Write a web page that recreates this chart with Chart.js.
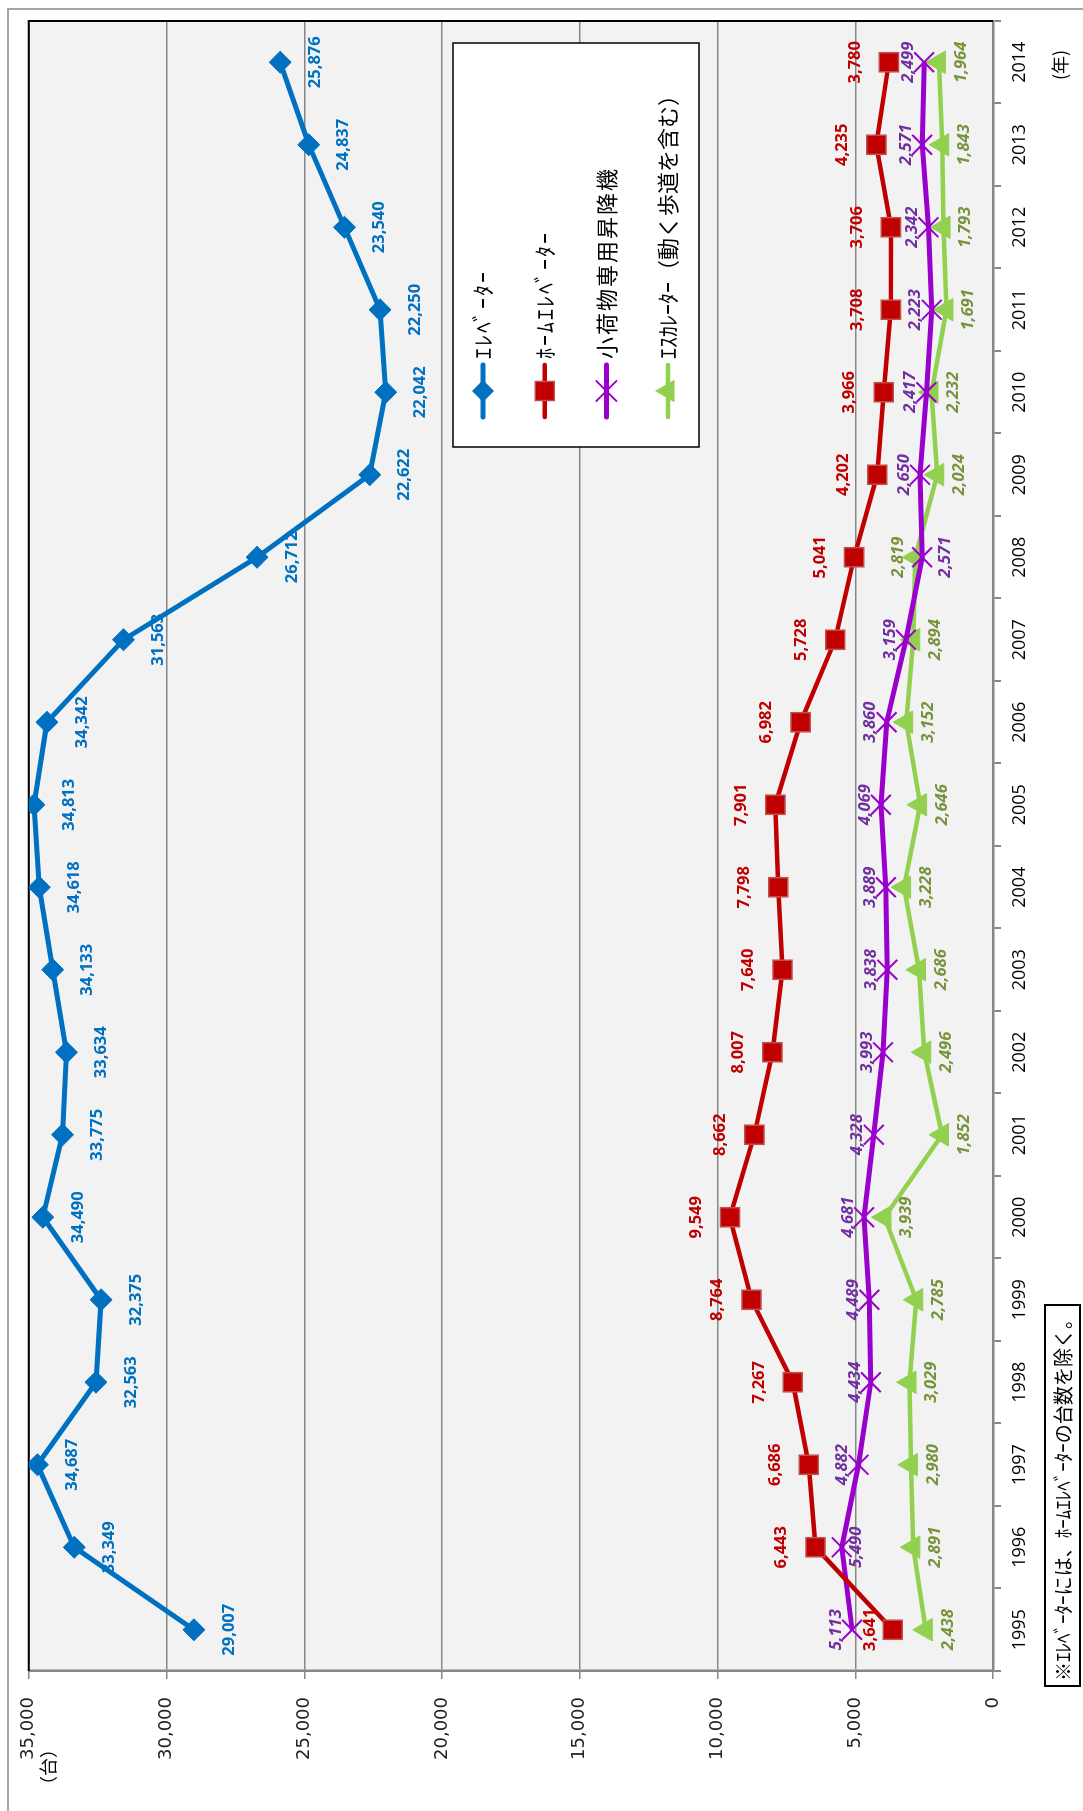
<!DOCTYPE html>
<html>
<head>
<meta charset="utf-8">
<script src="https://cdn.jsdelivr.net/npm/chart.js@4"></script>
<style>
html, body { margin: 0; padding: 0; background: #fff; overflow: hidden; }
#wrap {
    position: absolute; left: 0; top: 0;
    width: 1811px; height: 1083px;
    transform-origin: 0 0;
    transform: translate(0, 1811px) rotate(-90deg);
}
</style>
</head>
<body>
<div id="wrap"><canvas id="chart" width="1811" height="1083"></canvas></div>
<script>
// data
const years = ['1995', '1996', '1997', '1998', '1999', '2000', '2001', '2002', '2003', '2004',
               '2005', '2006', '2007', '2008', '2009', '2010', '2011', '2012', '2013', '2014'];
const elevator     = [29007, 33349, 34687, 32563, 32375, 34490, 33775, 33634, 34133, 34618,
                      34813, 34342, 31563, 26712, 22622, 22042, 22250, 23540, 24837, 25876];
const homeElevator = [3641, 6443, 6686, 7267, 8764, 9549, 8662, 8007, 7640, 7798,
                      7901, 6982, 5728, 5041, 4202, 3966, 3708, 3706, 4235, 3780];
const dumbwaiter   = [5113, 5490, 4882, 4434, 4489, 4681, 4328, 3993, 3838, 3889,
                      4069, 3860, 3159, 2571, 2650, 2417, 2223, 2342, 2571, 2499];
const escalator    = [2438, 2891, 2980, 3029, 2785, 3939, 1852, 2496, 2686, 3228,
                      2646, 3152, 2894, 2819, 2024, 2232, 1691, 1793, 1843, 1964];
const seriesNames  = ['ｴﾚﾍﾞｰﾀｰ', 'ﾎｰﾑｴﾚﾍﾞｰﾀｰ', '小荷物専用昇降機', 'ｴｽｶﾚｰﾀｰ（動く歩道を含む）'];
const yTicks = [0, 5000, 10000, 15000, 20000, 25000, 30000, 35000];
const unitY = '（台）';
const unitX = '(年)';
const note = '※ｴﾚﾍﾞｰﾀｰには、ﾎｰﾑｴﾚﾍﾞｰﾀｰの台数を除く。';

const GRAY = '#868686';
const LBL = '"Open Sans", "Noto Sans", sans-serif';
const JP = '"Noto Sans CJK JP", sans-serif';

// label look per series: colour, italic, offset from point (+ = below in this canvas)
const labelStyle = [
    { color: '#0070C0', italic: false, off: 35 },
    { color: '#C00000', italic: false, off: -34, except: { 0: -22 } },
    { color: '#7030A0', italic: true,  off: -16, except: { 1: 15, 13: 23 } },
    { color: '#77933C', italic: true,  off: 22,  except: { 13: -17 } }
];
const legendSpacing = [2, 2, 2, 0];

function fmt(v) { return v.toLocaleString('en-US'); }

const framePlugin = {
    id: 'frame',
    beforeDraw(chart) {
        const { ctx, chartArea: a, width, height } = chart;
        ctx.save();
        ctx.fillStyle = '#fff';
        ctx.fillRect(0, 0, width, height);
        // outer chart border
        ctx.strokeStyle = '#a6a6a6';
        ctx.lineWidth = 2;
        ctx.beginPath();
        ctx.moveTo(-10, 8);
        ctx.lineTo(width - 9, 8);
        ctx.lineTo(width - 9, height + 10);
        ctx.stroke();
        // plot area
        ctx.fillStyle = '#f2f2f2';
        ctx.fillRect(a.left, a.top, a.right - a.left, a.bottom - a.top);
        ctx.restore();
    },
    beforeDatasetsDraw(chart) {
        const { ctx, chartArea: a } = chart;
        ctx.save();
        ctx.strokeStyle = '#000';
        ctx.lineWidth = 2;
        ctx.beginPath();
        ctx.moveTo(a.left, a.top);
        ctx.lineTo(a.right, a.top);
        ctx.lineTo(a.right, a.bottom);
        ctx.stroke();
        ctx.restore();
    },
    afterDatasetsDraw(chart) {
        const ctx = chart.ctx;
        chart.data.datasets.forEach((ds, i) => {
            const meta = chart.getDatasetMeta(i);
            const st = labelStyle[i];
            ctx.save();
            ctx.font = (st.italic ? 'italic ' : '') + 'bold 16.5px ' + LBL;
            ctx.fillStyle = st.color;
            ctx.textAlign = 'center';
            ctx.textBaseline = 'middle';
            meta.data.forEach((pt, j) => {
                const off = st.except && st.except[j] !== undefined ? st.except[j] : st.off;
                ctx.fillText(fmt(ds.data[j]), pt.x, pt.y + off);
            });
            ctx.restore();
        });
    },
    afterDraw(chart) {
        const ctx = chart.ctx;
        ctx.save();
        // axis units
        ctx.fillStyle = '#000';
        ctx.textAlign = 'center';
        ctx.textBaseline = 'middle';
        ctx.font = '18px ' + JP;
        ctx.fillText(unitY, 44, 48);
        ctx.fillText(unitX, 1746, 1060);

        // legend box
        const lx = 1364, ly = 453, lw = 404, lh = 246;
        ctx.fillStyle = '#fff';
        ctx.fillRect(lx, ly, lw, lh);
        ctx.strokeStyle = '#000';
        ctx.lineWidth = 1.5;
        ctx.strokeRect(lx, ly, lw, lh);
        chart.data.datasets.forEach((ds, i) => {
            const y = ly + 30 + i * 61.7;
            ctx.strokeStyle = ds.borderColor;
            ctx.lineWidth = ds.borderWidth;
            ctx.lineCap = 'round';
            ctx.beginPath();
            ctx.moveTo(lx + 30, y);
            ctx.lineTo(lx + 82, y);
            ctx.stroke();
            drawMarker(ctx, i, lx + 56, y, ds);
            ctx.fillStyle = '#000';
            ctx.textAlign = 'left';
            ctx.font = '22px ' + JP;
            ctx.letterSpacing = legendSpacing[i] + 'px';
            ctx.fillText(seriesNames[i], lx + 88, y);
            ctx.letterSpacing = '0px';
        });

        // footnote box, text squeezed to fit like the original
        const nx = 125, ny = 1045, nw = 381, nh = 35;
        ctx.fillStyle = '#fff';
        ctx.fillRect(nx, ny, nw, nh);
        ctx.strokeStyle = '#000';
        ctx.lineWidth = 2;
        ctx.strokeRect(nx, ny, nw, nh);
        ctx.fillStyle = '#000';
        ctx.textAlign = 'left';
        ctx.font = '20px ' + JP;
        ctx.fillText(note, nx + 5, ny + nh / 2 + 1, nw - 10);
        ctx.restore();
    }
};

function drawMarker(ctx, i, x, y, ds) {
    ctx.save();
    ctx.fillStyle = ds.pointBackgroundColor;
    ctx.strokeStyle = ds.pointBorderColor;
    ctx.lineWidth = ds.pointBorderWidth;
    ctx.beginPath();
    if (i === 0) {
        ctx.moveTo(x - 11, y); ctx.lineTo(x, y - 11); ctx.lineTo(x + 11, y); ctx.lineTo(x, y + 11);
        ctx.closePath(); ctx.fill();
    } else if (i === 1) {
        ctx.rect(x - 9.5, y - 9.5, 19, 19); ctx.fill(); ctx.stroke();
    } else if (i === 2) {
        ctx.moveTo(x - 10, y - 10); ctx.lineTo(x + 10, y + 10);
        ctx.moveTo(x + 10, y - 10); ctx.lineTo(x - 10, y + 10);
        ctx.stroke();
    } else {
        ctx.moveTo(x, y - 13); ctx.lineTo(x + 11.3, y + 6.5); ctx.lineTo(x - 11.3, y + 6.5);
        ctx.closePath(); ctx.fill();
    }
    ctx.restore();
}

new Chart(document.getElementById('chart'), {
    type: 'line',
    data: {
        labels: years,
        datasets: [
            { label: seriesNames[0], data: elevator, borderColor: '#0070C0', borderWidth: 5,
              pointStyle: 'rectRot', pointRadius: 11, pointBackgroundColor: '#0070C0',
              pointBorderColor: '#0070C0', pointBorderWidth: 1 },
            { label: seriesNames[1], data: homeElevator, borderColor: '#C00000', borderWidth: 4.5,
              pointStyle: 'rect', pointRadius: 13.5, pointBackgroundColor: '#C00000',
              pointBorderColor: '#C0504D', pointBorderWidth: 1.5 },
            { label: seriesNames[2], data: dumbwaiter, borderColor: '#9900CC', borderWidth: 5,
              pointStyle: 'crossRot', pointRadius: 14, pointBackgroundColor: '#9900CC',
              pointBorderColor: '#9900CC', pointBorderWidth: 2 },
            { label: seriesNames[3], data: escalator, borderColor: '#92D050', borderWidth: 4.5,
              pointStyle: 'triangle', pointRadius: 13, pointBackgroundColor: '#92D050',
              pointBorderColor: '#92D050', pointBorderWidth: 1 }
        ]
    },
    options: {
        responsive: false,
        animation: false,
        layout: { padding: { left: 0, top: 25, right: 21, bottom: 0 } },
        plugins: { legend: { display: false }, tooltip: { enabled: false } },
        elements: { line: { tension: 0 } },
        scales: {
            x: {
                offset: true,
                grid: { display: true, drawOnChartArea: false, drawTicks: true, tickLength: 8,
                        color: GRAY, lineWidth: 2, offset: true },
                border: { display: true, color: GRAY, width: 2.5 },
                ticks: { font: { family: LBL, size: 18 }, color: '#000', padding: 8,
                         maxRotation: 0, autoSkip: false },
                afterFit(s) { s.height = 90; }
            },
            y: {
                min: yTicks[0],
                max: yTicks[yTicks.length - 1],
                grid: { color: GRAY, lineWidth: 1.5, drawTicks: true, tickLength: 8 },
                border: { display: true, color: GRAY, width: 2.5 },
                afterBuildTicks(s) { s.ticks = yTicks.map(v => ({ value: v })); },
                ticks: { font: { family: '"DejaVu Sans"', size: 18 }, color: '#222', padding: 18,
                         callback: v => fmt(v) },
                afterFit(s) { s.width = 140; }
            }
        }
    },
    plugins: [framePlugin]
});
</script>
</body>
</html>
